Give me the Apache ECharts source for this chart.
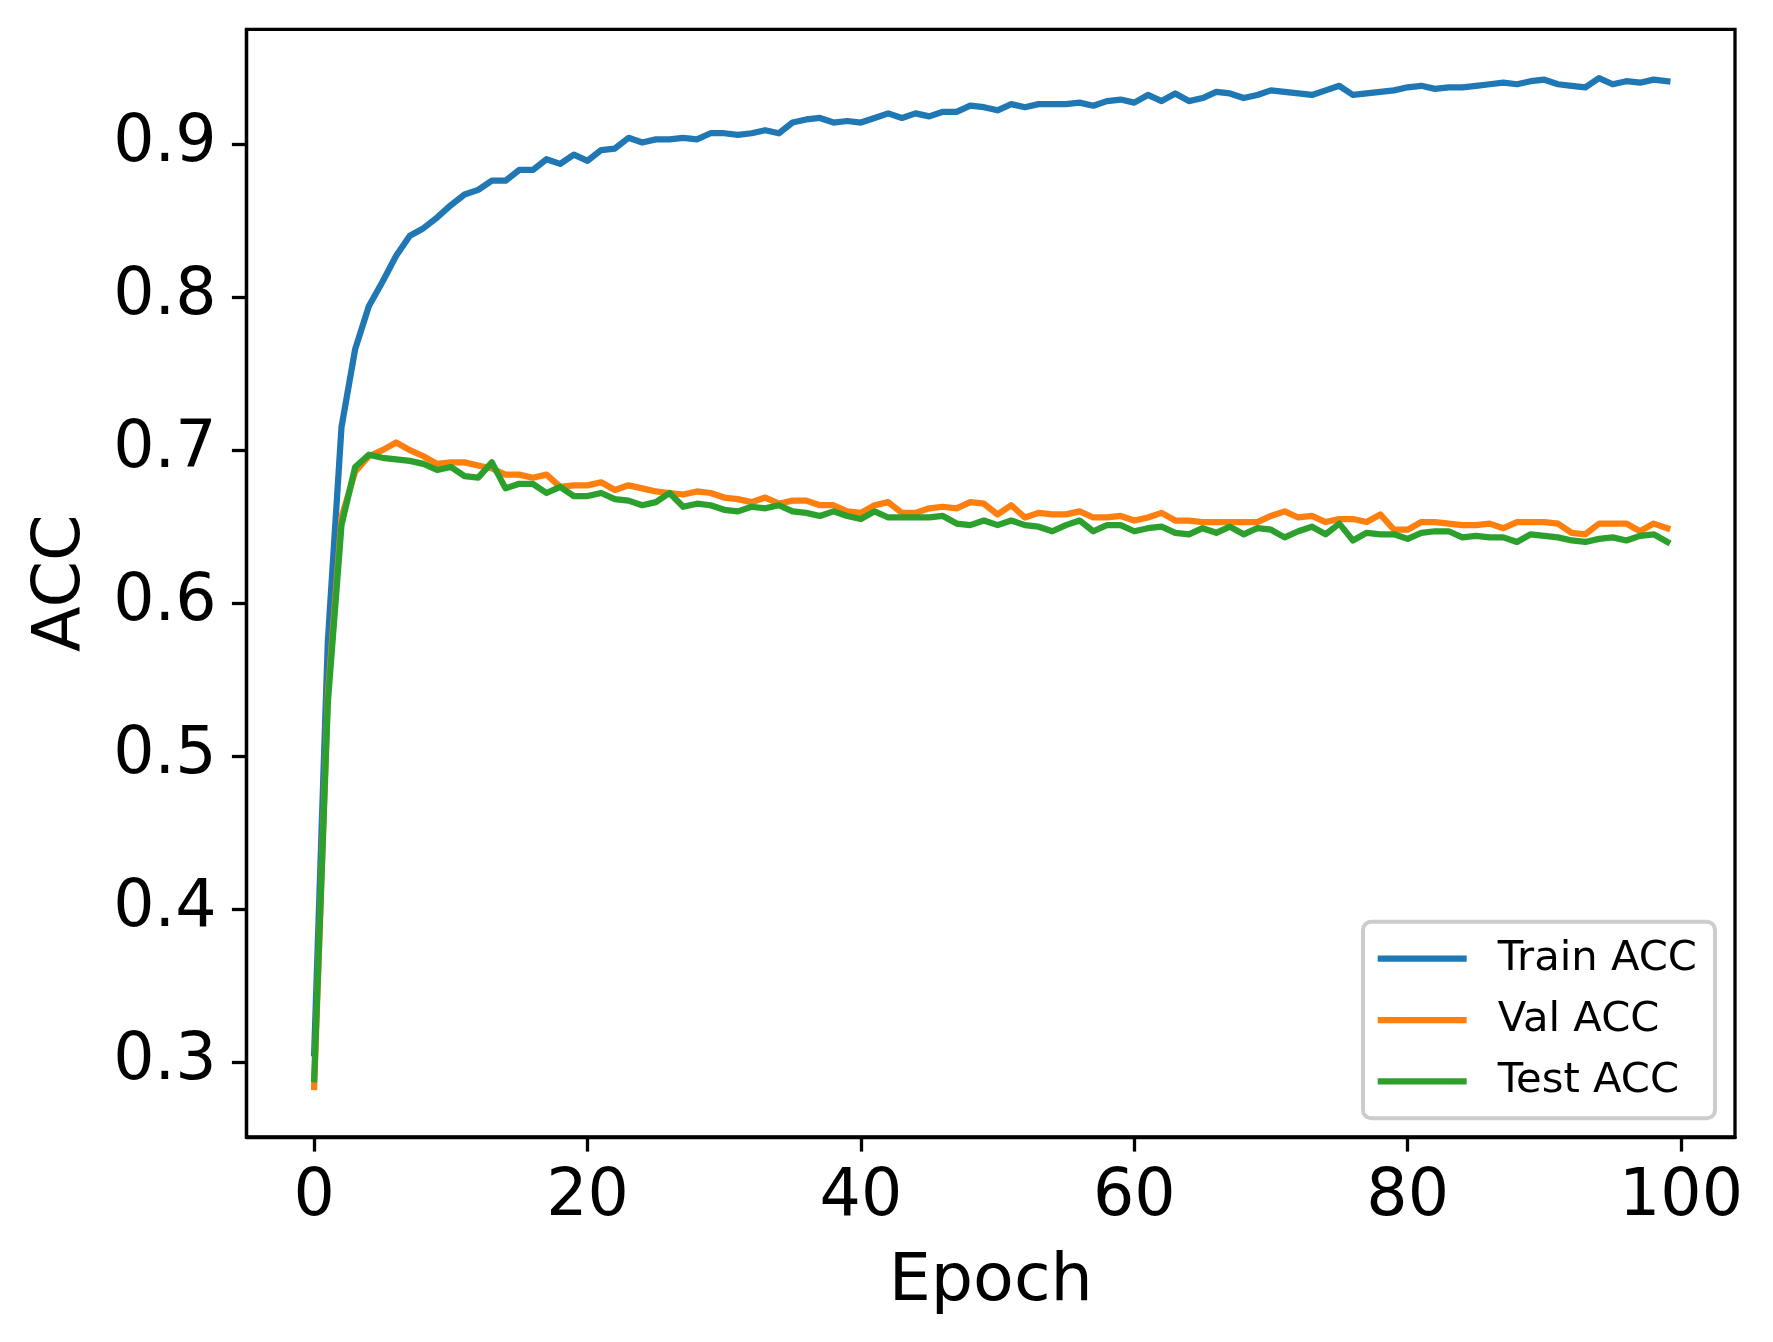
<!DOCTYPE html>
<html>
<head>
<meta charset="utf-8">
<script src="https://cdn.jsdelivr.net/npm/echarts@6/dist/echarts.min.js"></script>
<style>
  html, body { margin: 0; padding: 0; background: #fff; }
  #main { width: 1773px; height: 1342px; }
</style>
</head>
<body>
<div id="main"></div>
<script>
// accuracy per epoch
let trainAcc = [
  0.306, 0.575, 0.715, 0.766, 0.794, 0.810, 0.827, 0.840, 0.845, 0.852,
  0.860, 0.867, 0.870, 0.876, 0.876, 0.883, 0.883, 0.890, 0.887, 0.893,
  0.889, 0.896, 0.897, 0.904, 0.901, 0.903, 0.903, 0.904, 0.903, 0.907,
  0.907, 0.906, 0.907, 0.909, 0.907, 0.914, 0.916, 0.917, 0.914, 0.915,
  0.914, 0.917, 0.920, 0.917, 0.920, 0.918, 0.921, 0.921, 0.925, 0.924,
  0.922, 0.926, 0.924, 0.926, 0.926, 0.926, 0.927, 0.925, 0.928, 0.929,
  0.927, 0.932, 0.928, 0.933, 0.928, 0.930, 0.934, 0.933, 0.930, 0.932,
  0.935, 0.934, 0.933, 0.932, 0.935, 0.938, 0.932, 0.933, 0.934, 0.935,
  0.937, 0.938, 0.936, 0.937, 0.937, 0.938, 0.939, 0.940, 0.939, 0.941,
  0.942, 0.939, 0.938, 0.937, 0.943, 0.939, 0.941, 0.940, 0.942, 0.941
]
let valAcc = [
  0.284, 0.540, 0.656, 0.686, 0.696, 0.700, 0.705, 0.700, 0.696, 0.691,
  0.692, 0.692, 0.690, 0.688, 0.684, 0.684, 0.682, 0.684, 0.676, 0.677,
  0.677, 0.679, 0.674, 0.677, 0.675, 0.673, 0.672, 0.671, 0.673, 0.672,
  0.669, 0.668, 0.666, 0.669, 0.665, 0.667, 0.667, 0.664, 0.664, 0.660,
  0.659, 0.664, 0.666, 0.659, 0.659, 0.662, 0.663, 0.662, 0.666, 0.665,
  0.658, 0.664, 0.656, 0.659, 0.658, 0.658, 0.660, 0.656, 0.656, 0.657,
  0.654, 0.656, 0.659, 0.654, 0.654, 0.653, 0.653, 0.653, 0.653, 0.653,
  0.657, 0.660, 0.656, 0.657, 0.653, 0.655, 0.655, 0.653, 0.658, 0.648,
  0.648, 0.653, 0.653, 0.652, 0.651, 0.651, 0.652, 0.649, 0.653, 0.653,
  0.653, 0.652, 0.646, 0.645, 0.652, 0.652, 0.652, 0.647, 0.652, 0.649
]
let testAcc = [
  0.289, 0.535, 0.651, 0.689, 0.697, 0.695, 0.694, 0.693, 0.691, 0.687,
  0.689, 0.683, 0.682, 0.692, 0.675, 0.678, 0.678, 0.672, 0.676, 0.670,
  0.670, 0.672, 0.668, 0.667, 0.664, 0.666, 0.672, 0.663, 0.665, 0.664,
  0.661, 0.660, 0.663, 0.662, 0.664, 0.660, 0.659, 0.657, 0.660, 0.657,
  0.655, 0.660, 0.656, 0.656, 0.656, 0.656, 0.657, 0.652, 0.651, 0.654,
  0.651, 0.654, 0.651, 0.650, 0.647, 0.651, 0.654, 0.647, 0.651, 0.651,
  0.647, 0.649, 0.650, 0.646, 0.645, 0.649, 0.646, 0.650, 0.645, 0.649,
  0.648, 0.643, 0.647, 0.650, 0.645, 0.652, 0.641, 0.646, 0.645, 0.645,
  0.642, 0.646, 0.647, 0.647, 0.643, 0.644, 0.643, 0.643, 0.640, 0.645,
  0.644, 0.643, 0.641, 0.640, 0.642, 0.643, 0.641, 0.644, 0.645, 0.640
]
let seriesNames = ['Train ACC', 'Val ACC', 'Test ACC']
let xTicks = [0, 20, 40, 60, 80, 100]
let yTicks = [0.3, 0.4, 0.5, 0.6, 0.7, 0.8, 0.9]

let colors = ['#1f77b4', '#ff7f0e', '#2ca02c']
let font = 'DejaVu Sans'

function toPoints(arr) {
  return arr.map((v, i) => [i, v])
}

let chart = echarts.init(document.getElementById('main'), null, { renderer: 'canvas' });

function lineSeries(name, arr, color) {
  return {
    name: name,
    type: 'line',
    data: toPoints(arr),
    showSymbol: false,
    symbol: 'none',
    lineStyle: { color: color, width: 6.25, cap: 'square', join: 'round' },
    itemStyle: { color: color },
    emphasis: { disabled: true }
  }
}

let option = {
  animation: false,
  backgroundColor: '#fff',
  color: colors,
  grid: {
    left: 246.5, right: 38, top: 29.3, bottom: 205,
    show: true, borderColor: '#000', borderWidth: 3.3,
    containLabel: false, outerBoundsMode: 'none'
  },
  legend: {
    orient: 'vertical',
    left: 1363, top: 921.7,
    padding: [16, 18, 16, 14.7],
    itemWidth: 89, itemHeight: 6.25, itemGap: 19.3,
    icon: 'rect',
    backgroundColor: 'rgba(255,255,255,0.8)',
    borderColor: '#cccccc', borderWidth: 4, borderRadius: 8,
    textStyle: { fontFamily: font, fontSize: 41.7, lineHeight: 41.7, color: '#000', padding: [0, 0, 0, 26] },
    data: seriesNames
  },
  xAxis: {
    type: 'value',
    min: -4.95, max: 103.95,
    name: 'Epoch',
    nameLocation: 'middle',
    nameGap: 112,
    nameTextStyle: { fontFamily: font, fontSize: 66.7, color: '#000' },
    axisLine: { show: true, onZero: false, lineStyle: { color: '#000', width: 3.3 } },
    axisTick: { show: true, customValues: xTicks, length: 14.6, lineStyle: { color: '#000', width: 3.3 } },
    axisLabel: { customValues: xTicks, margin: 29, fontFamily: font, fontSize: 65, color: '#000' },
    splitLine: { show: false }
  },
  yAxis: {
    type: 'value',
    min: 0.2513, max: 0.9749,
    name: 'ACC',
    nameLocation: 'middle',
    nameGap: 151,
    nameTextStyle: { fontFamily: font, fontSize: 66.7, color: '#000' },
    axisLine: { show: true, onZero: false, lineStyle: { color: '#000', width: 3.3 } },
    axisTick: { show: true, customValues: yTicks, length: 14.6, lineStyle: { color: '#000', width: 3.3 } },
    axisLabel: {
      customValues: yTicks, margin: 30, fontFamily: font, fontSize: 65, color: '#000',
      formatter: v => v.toFixed(1)
    },
    splitLine: { show: false }
  },
  series: [
    lineSeries(seriesNames[0], trainAcc, colors[0]),
    lineSeries(seriesNames[1], valAcc, colors[1]),
    lineSeries(seriesNames[2], testAcc, colors[2])
  ]
}
chart.setOption(option)
</script>
</body>
</html>
